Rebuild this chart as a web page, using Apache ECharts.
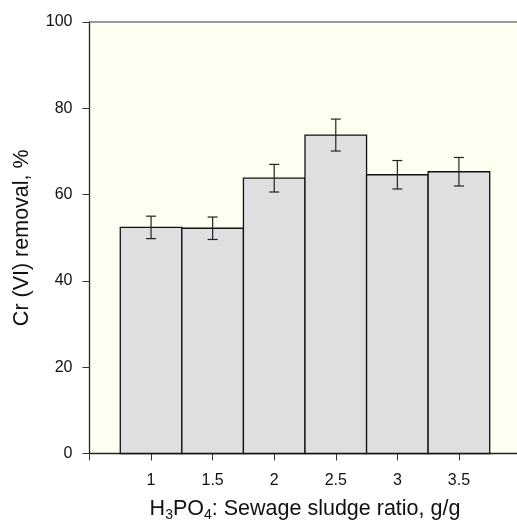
<!DOCTYPE html>
<html>
<head>
<meta charset="utf-8">
<script src="https://cdn.jsdelivr.net/npm/echarts@6/dist/echarts.min.js"></script>
<style>html,body{margin:0;padding:0;background:#fff;overflow:hidden;}#c{width:517px;height:525px;}</style>
</head>
<body>
<div id="c"></div>
<script>
var ratios = [1, 1.5, 2, 2.5, 3, 3.5];
var removal = [52.4, 52.2, 63.8, 73.8, 64.6, 65.3];
var errors = [2.6, 2.6, 3.2, 3.7, 3.3, 3.3];
var yTicks = [0, 20, 40, 60, 80, 100];
var xTickLabels = ['1', '1.5', '2', '2.5', '3', '3.5'];

var barData = ratios.map(function (r, i) { return [r, removal[i]]; });
var errData = ratios.map(function (r, i) { return [r, removal[i] - errors[i], removal[i] + errors[i]]; });

var FONT = '"Liberation Sans", Arial, sans-serif';
var chart = echarts.init(document.getElementById('c'), null, {renderer: 'canvas', width: 517, height: 525});
chart.setOption({
  animation: false,
  backgroundColor: '#ffffff',
  grid: {left: 89.5, top: 22, width: 431, height: 431.5, outerBoundsMode: 'none', containLabel: false,
    show: true, backgroundColor: '#FEFEF1', borderWidth: 0},
  xAxis: [{
    type: 'value', min: 0.5, max: 4, interval: 0.5,
    axisLine: {show: true, onZero: false, lineStyle: {color: '#222', width: 1.3}},
    axisTick: {show: true, length: 7, lineStyle: {color: '#333', width: 1}},
    splitLine: {show: false},
    axisLabel: {
      margin: 19, fontSize: 16, color: '#111', fontFamily: FONT,
      formatter: function (v) { var i = ratios.indexOf(v); return i >= 0 ? xTickLabels[i] : ''; }
    },
    name: '{n|H}{s|3}{n|PO}{s|4}{n|: Sewage sludge ratio, g/g}',
    nameLocation: 'middle', nameGap: 43,
    nameTextStyle: {
      rich: {
        n: {fontSize: 21.5, fontFamily: FONT, color: '#111', lineHeight: 26},
        s: {fontSize: 14, fontFamily: FONT, color: '#111', verticalAlign: 'bottom', padding: [12, 0, 0, 0], lineHeight: 26}
      }
    }
  }, {
    type: 'value', min: 0.5, max: 4, position: 'top',
    axisLine: {show: true, onZero: false, lineStyle: {color: '#7a7a7a', width: 1.5}},
    axisTick: {show: false}, axisLabel: {show: false}, splitLine: {show: false}
  }],
  yAxis: {
    type: 'value', min: 0, max: 100, interval: 20,
    axisLine: {show: true, onZero: false, lineStyle: {color: '#222', width: 1.3}},
    axisTick: {show: true, length: 7, lineStyle: {color: '#333', width: 1}},
    splitLine: {show: false},
    axisLabel: {margin: 17, fontSize: 16, color: '#111', fontFamily: FONT,
      formatter: function (v) { return yTicks.indexOf(v) >= 0 ? String(v) : ''; }},
    name: 'Cr (VI) removal, %', nameLocation: 'middle', nameGap: 56,
    nameTextStyle: {fontSize: 21.5, fontFamily: FONT, color: '#111'}
  },
  series: [{
    type: 'custom',
    data: barData,
    renderItem: function (params, api) {
      var x = api.value(0), v = api.value(1);
      var p1 = api.coord([x - 0.25, v]);
      var p2 = api.coord([x + 0.25, 0]);
      return {
        type: 'rect',
        shape: {x: p1[0], y: p1[1], width: p2[0] - p1[0], height: p2[1] - p1[1]},
        style: {fill: '#DFDFDF', stroke: '#111', lineWidth: 1.3}
      };
    },
    z: 2
  }, {
    type: 'custom',
    data: errData,
    renderItem: function (params, api) {
      var x = api.value(0);
      var lo = api.coord([x, api.value(1)]);
      var hi = api.coord([x, api.value(2)]);
      var cw = 5;
      var st = {stroke: '#222', lineWidth: 1.2};
      return {
        type: 'group',
        children: [
          {type: 'line', shape: {x1: lo[0], y1: lo[1], x2: hi[0], y2: hi[1]}, style: st},
          {type: 'line', shape: {x1: lo[0] - cw, y1: lo[1], x2: lo[0] + cw, y2: lo[1]}, style: st},
          {type: 'line', shape: {x1: hi[0] - cw, y1: hi[1], x2: hi[0] + cw, y2: hi[1]}, style: st}
        ]
      };
    },
    z: 3
  }]
});
</script>
</body>
</html>
